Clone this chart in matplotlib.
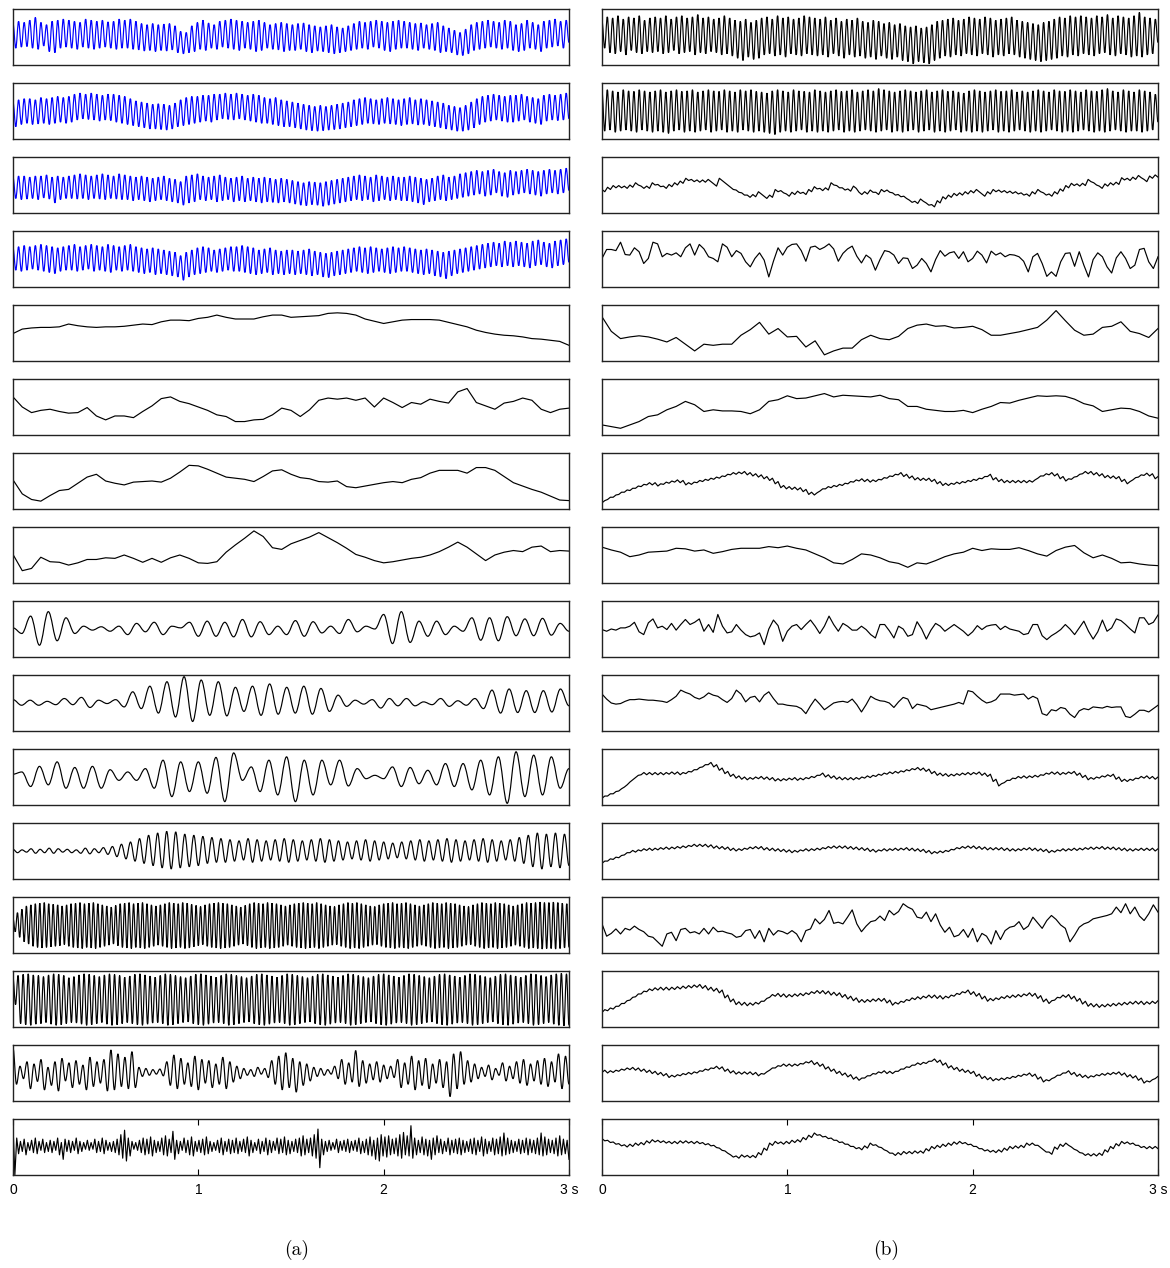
import numpy as np
import matplotlib
matplotlib.use("Agg")
import matplotlib.pyplot as plt
from matplotlib.path import Path
from matplotlib.patches import PathPatch

DURATION = 3.0
TIME_TICKS = [0, 1, 2, 3]
TIME_LABELS = ["0", "1", "2", "3 s"]
PANEL_LABELS = ["(a)", "(b)"]

# ---------------- column (a) ----------------
A1_PEAKS = [74,78,76,80,85,76,72,78,80,82, 80,78,76,82,80,78,80,77,78,82, 80,82,78,74,72,74,72,73,74,70, 60,58,70,76,80,75,72,78,80,82, 80,78,76,78,80,76,72,74,76,74, 72,74,75,72,70,68,70,72,68,66, 70,74,78,76,78,80,78,76,78,80, 78,76,74,75,72,74,76,70,66,62, 58,64,72,76,78,80,78,76,80,78, 72,74,80,76,72,78,80,82,78,80]
A1_TROUGHS = [30,32,33,30,28,34,24,22,30,32, 30,28,32,30,28,30,32,30,28,30, 30,28,27,25,26,24,26,25,27,22, 20,22,24,28,26,30,28,32,30,28, 26,30,28,24,26,30,28,27,24,26, 26,28,24,22,25,24,22,20,22,24, 26,28,30,28,32,30,26,24,28,30, 30,28,26,30,28,26,22,24,22,18, 17,20,26,28,30,32,30,28,30,26, 24,26,30,28,24,30,32,34,30,40]

A2_PEAKS = [66,70,72,72,70,74,72,74,76,74, 76,80,82,80,82,80,78,80,80,78, 76,72,68,66,64,62,63,62,60,64, 70,74,76,76,78,78,80,80,82,80, 82,80,78,80,78,74,72,74,70,68, 66,64,62,60,58,60,58,60,62,64, 66,70,72,74,72,70,72,74,72,70, 72,74,70,72,70,68,66,64,60,58, 56,60,66,72,76,78,80,78,76,78, 78,80,76,74,72,78,80,78,80,82]
A2_TROUGHS = [22,26,28,26,27,28,26,28,30,28, 30,34,36,35,34,32,34,33,30,28, 26,24,22,20,18,18,17,16,18,22, 24,26,28,30,32,30,34,36,35,34, 36,34,32,30,28,28,26,24,22,22, 20,18,16,15,14,15,16,17,18,20, 22,24,26,28,27,26,28,27,26,24, 26,27,25,26,24,22,20,18,16,14, 14,16,20,26,30,32,34,32,30,30, 32,34,30,28,26,32,34,33,34,36]

A3_PEAKS = [64,66,66,64,66,66,68,64,66,64, 66,68,70,68,66,68,70,68,66,70, 68,66,64,66,64,62,64,66,62,60, 56,66,68,70,66,64,66,68,64,62, 64,66,62,64,62,64,62,60,62,60, 58,56,54,56,55,54,56,58,60,62, 64,66,68,66,64,68,66,64,66,64, 64,66,64,62,60,62,66,68,64,66, 70,72,74,76,74,76,78,74,72,76, 74,76,78,76,74,76,78,76,78,80]
A3_TROUGHS = [26,24,25,26,24,27,25,18,24,26, 26,25,26,24,26,25,24,26,25,24, 24,22,24,22,20,22,24,22,20,18, 14,18,20,24,22,24,20,22,24,20, 22,20,22,20,18,20,19,18,20,18, 16,14,13,15,14,12,14,16,18,20, 22,24,22,24,20,22,24,22,24,22, 22,20,18,15,20,22,24,22,24,26, 28,30,32,34,30,32,36,30,28,32, 34,36,34,32,30,34,36,34,36,40]

A4_PEAKS = [70,72,74,72,74,76,74,72,70,72, 74,76,72,74,76,74,72,76,74,72, 74,76,72,70,68,70,68,66,64,62, 56,62,66,70,72,70,66,68,70,72, 72,74,72,70,66,68,70,66,64,66, 66,64,66,68,64,62,60,62,64,66, 68,70,72,70,72,70,68,70,72,70, 72,70,68,66,68,66,64,62,64,66, 68,70,72,74,76,78,80,78,82,80, 82,80,78,82,84,80,78,82,84,86]
A4_TROUGHS = [30,28,30,32,30,28,26,24,28,30, 30,28,30,32,28,30,28,26,30,28, 30,28,26,24,26,22,24,22,20,18, 12,18,22,24,26,28,26,28,30,28, 28,26,24,22,24,26,22,24,22,24, 22,24,22,20,22,18,17,20,22,24, 26,28,26,24,26,28,26,24,26,28, 28,26,24,22,24,20,18,15,20,24, 26,28,30,32,34,36,38,36,38,36, 38,36,34,38,40,36,34,38,40,44]

A5 = [49,57,59,60,60,61,66,63,61,60, 61,61,62,64,66,65,70,73,73,72, 76,78,82,78,75,75,75,79,82,82, 78,79,80,81,85,86,85,82,75,71, 67,70,73,74,74,74,73,69,65,61, 55,51,48,46,45,43,40,39,37,35, 28]
A6 = [68,50,40,44,46,42,39,40,49,34, 27,34,34,31,42,52,65,68,60,56, 50,44,36,33,24,24,27,28,36,48, 44,33,45,62,66,64,66,62,66,50, 66,58,49,58,55,64,60,57,77,83, 58,52,46,57,60,66,62,46,40,46, 48]
A7 = [52,27,17,14,24,33,35,46,57,62, 50,46,43,48,49,50,48,55,66,78, 77,71,64,57,55,53,49,58,68,70, 62,56,54,49,48,50,40,38,41,44, 47,49,47,53,56,64,69,69,69,64, 74,74,69,58,47,41,35,30,23,16, 15]
A8 = [51,22,26,46,38,37,32,36,42,42, 45,44,50,44,37,44,37,45,50,44, 36,35,38,55,68,80,93,83,63,60, 70,76,82,90,81,72,62,51,46,40, 36,38,41,44,46,50,56,64,73,64, 52,40,50,55,58,56,64,66,56,58, 57]

A9 = [52,42,73,21,81,29,70,42,55,48,54,46,55,40,60,45,62,40,55,52,62,37,64,37,62,36,67,36,63,40,55,40,65,37,63,43,55,42,67,45,55,50,76,24,81,26,64,37,64,40,55,46,70,30,70,29,72,38,68,38,69,39,60,46]
A10 = [56,46,55,46,53,47,58,47,60,42,55,49,56,43,70,40,80,32,88,25,97,17,91,28,88,27,78,35,80,28,84,30,78,32,80,30,76,35,64,44,55,48,56,41,58,45,58,45,52,47,58,44,54,46,58,40,73,32,75,33,72,33,72,34,75,45]
A11 = [55,59,33,69,36,77,30,67,30,69,30,63,44,59,44,65,30,80,15,77,24,77,21,85,6,93,44,68,24,80,18,86,6,80,18,80,36,80,34,65,47,53,47,68,33,67,38,62,36,74,33,74,27,80,18,86,3,95,15,89,18,86,30,65]

A12_PEAKS = [53,52,54,53,55,54,53,52,55,54,56, 58,62,66,72, 78,82,85,84, 80,78,76,74,72, 70,68,72,70,68,70,72,70,68,70,72, 70,68,66,68,70,68,66,64,66,68, 70,68,70,72,70,68,70,72,70,68,70, 74,78,82,80,82,80]
A12_TROUGHS = [47,48,46,47,46,48,47,46,45,47,44, 40,36,32,28, 24,20,18,20, 22,24,28,30,30, 32,34,30,32,34,32,30,32,34,32,30, 32,34,36,34,32,34,36,38,36,34, 32,34,32,30,32,34,32,30,32,34,32, 28,22,18,22,20,24]

A13_PEAKS = [62,72,78,84,86,88,89,90,88,87, 86,84,86,88,89,90,88,89,90,88, 86,84,82,85,88,89,90,88,89,90, 88,86,84,86,88,90,89,88,90,89, 87,85,83,86,88,89,90,89,88,86, 84,82,85,88,90,89,88,90,89,88, 86,84,86,88,89,90,89,88,90,88, 86,84,83,86,88,90,89,90,88,86, 84,83,86,88,89,90,88,89,90,88, 86,84,86,88,90,89,88,90,89,88, 86,84,83,86,88,90,89,88,90,89, 88,86,84,86,88,90,89,90,91,90, 90,91,90,89,88]
A13_TROUGHS = [38,28,20,16,12,10,9,10,11,12, 13,15,12,10,9,8,10,9,8,10, 12,14,16,13,10,9,8,10,9,8, 10,12,14,12,10,8,9,10,8,9, 11,13,15,12,10,9,8,9,10,12, 14,16,13,10,8,9,10,8,9,10, 12,14,12,10,9,8,9,10,8,10, 12,14,15,12,10,8,9,8,10,12, 14,15,12,10,9,8,10,9,8,10, 12,14,12,10,8,9,10,8,9,10, 12,14,15,12,10,8,9,10,8,9, 10,12,14,12,10,8,9,8,7,8, 8,7,8,9,10]

A14_PEAKS = [88,92,94,95,93,92,90,93,95,94, 92,88,90,93,95,94,92,90,93,95, 94,92,89,91,94,95,93,91,89,92, 95,94,92,90,88,91,94,95,93,91, 89,92,95,94,92,90,88,91,94,95, 93,91,89,92,95,94,92,90,88,91, 94,95,93,91,89,92,95,94,92,90, 88,91,94,95,93,91,89,92,95,94, 92,90,88,91,94,95,93,91,89,92, 95,94,92,90,88,91,94,95,93,91, 89,92,95,94,92,90,93,95,96,95]
A14_TROUGHS = [40,6,4,3,5,6,8,5,3,4, 6,8,7,5,3,4,6,8,5,3, 4,6,8,6,4,3,5,7,8,6, 3,4,6,8,9,6,4,3,5,7, 8,6,3,4,6,8,9,6,4,3, 5,7,8,6,3,4,6,8,9,6, 4,3,5,7,8,6,3,4,6,8, 9,6,4,3,5,7,8,6,3,4, 6,8,9,6,4,3,5,7,8,6, 3,4,6,8,9,6,4,3,5,7, 8,6,3,4,6,8,5,3,2,3]

A15_PEAKS = [95,62,70,66,74,60,70,76,68,72,64,78,70,74, 91,84,78,88, 60,58,56,57, 70,82,76,68,80,74,72,66,78,70,62, 58,56,60,58, 72,80,86,76,70,66,60,58, 56,62,74,68, 90,72,66,70,64,62, 74,68,80,72,76,66,74,70, 84,88,72,66,60,64,58, 68,62,70,74,66,72,76,70,84,80]
A15_TROUGHS = [30,40,22,35,20,28,18,36,24,30,20,26,32,18, 20,26,22,24, 44,46,48,45, 28,22,30,26,20,32,24,30,22,34,40, 46,44,48,42, 30,20,24,16,28,36,44,46, 48,40,30,34, 26,32,38,34,40,42, 24,30,20,28,22,32,24,8, 22,30,34,40,44,38,46, 36,40,32,28,36,30,26,34,22,30]

A16_PEAKS = [88,66,60,64,58,62,66,60,64,58, 62,60,66,58,64,62,60,66,60,58, 62,58,64,60,66,62,58,60,64,72, 80,66,60,58,62,66,64,68,62,60, 66,70,64,78,62,60,66,62,68,60, 62,64,68,60,58,62,66,60,64,62, 66,60,64,68,62,58,64,60,66,62, 60,66,64,68,62,60,64,66,70,64, 66,72,82,64,60,62,58,64,60,62, 64,60,62,66,60,64,68,62,66,72, 68,70,64,66,72,76,70,88,66,62, 68,64,62,66,70,64,60,66,62,64, 66,62,60,64,66,62,68,64,60,66, 64,68,75,66,62,60,64,62,66,64, 62,66,75,68,64,62,66,70,64,62]
A16_TROUGHS = [0,38,42,36,44,40,38,44,40,42, 40,44,36,28,42,40,44,38,42,46, 44,46,40,42,38,44,42,40,36,30, 25,34,46,44,40,36,38,34,40,42, 36,34,40,28,38,44,40,36,34,42, 40,36,38,42,44,40,36,42,38,40, 38,42,40,34,40,44,38,42,36,40, 44,38,40,36,38,42,40,34,36,40, 34,30,13,36,42,44,46,40,44,42, 40,44,42,38,40,36,34,28,25,34, 32,36,38,34,30,36,34,30,36,40, 36,34,28,36,40,38,42,36,40,38, 36,40,42,38,36,42,34,38,42,36, 38,34,36,38,40,42,38,40,36,40, 38,36,34,36,40,38,34,36,38,28]

# ---------------- column (b) ----------------
B1_PEAKS = [78,86,84,88,82,86,84,88,80,84, 86,84,88,82,86,88,84,86,90,84, 86,82,84,88,84,80,78,82,76,80, 84,86,82,88,84,86,82,84,88,86, 84,82,86,80,84,78,82,80,84,78, 76,80,78,74,76,72,74,70,68,70, 66,68,72,78,80,82,84,80,82,86, 84,82,86,84,80,82,84,86,80,78, 76,74,72,76,78,82,86,84,88,86, 88,86,84,88,86,90,84,88,86,84, 88,94,86,84,82]
B1_TROUGHS = [30,22,20,24,18,26,22,20,24,22, 24,20,22,26,20,22,24,18,22,20, 24,22,18,20,16,12,8,14,10,12, 18,20,16,18,14,20,18,16,20,18, 16,18,14,20,16,12,18,14,16,12, 14,10,16,12,10,14,8,6,2,6, 4,2,8,12,16,14,18,16,20,18, 16,20,18,14,18,16,20,18,14,12, 10,8,6,8,10,12,16,14,18,16, 20,18,16,20,22,18,16,20,18,14, 16,14,18,20,40]

B2_PEAKS = [84,88,86,84,88,86,85,88,86,84, 86,88,84,86,88,85,86,88,84,86, 88,86,85,88,86,84,88,86,88,85, 84,82,86,88,86,84,88,86,85,84, 88,86,84,86,88,85,86,88,84,86, 88,86,90,88,86,84,86,88,86,84, 86,88,84,86,88,85,86,84,82,86, 88,86,84,86,88,85,86,88,84,86, 84,86,88,86,84,88,86,85,88,86, 84,88,86,85,88,90,86,84,88,86, 84,88,86,84,80]
B2_TROUGHS = [14,16,12,14,16,14,12,16,14,12, 14,12,10,14,16,12,14,12,14,16, 12,14,16,12,14,12,16,14,12,14, 12,10,8,12,14,12,14,16,12,14, 12,14,12,14,16,12,14,12,14,16, 14,12,14,16,12,14,12,14,16,12, 14,16,12,14,12,14,16,12,14,12, 14,12,14,16,12,14,12,14,16,14, 12,14,12,14,16,14,12,14,12,14, 16,14,12,14,12,14,16,14,12,14, 14,12,14,16,30]

B3_UPPER = [42,46,49,49,48,50,54,48,48,54, 51,48,51,54,57,62,60,59,59,60, 52,62,54,46,41,36,32,33,38,30, 32,42,40,34,37,39,37,42,47,44, 45,54,49,45,43,48,37,38,41,37, 42,41,36,33,30,23,21,25,18,15, 22,29,32,35,36,38,40,42,34,38, 42,41,40,39,38,36,34,38,42,36, 34,38,43,49,53,52,53,60,54,48, 52,54,55,63,62,64,67,60,66,68]
B3_LOWER = [38,42,45,45,44,46,50,44,44,50, 47,44,47,50,53,58,56,55,55,56, 48,58,50,42,37,32,28,29,34,26, 28,38,36,30,33,35,33,38,43,40, 41,50,45,41,39,44,33,34,37,33, 38,37,32,29,26,19,17,21,14,11, 18,25,28,31,32,34,36,38,30,34, 38,37,36,35,34,32,30,34,38,32, 30,34,39,45,49,48,49,56,50,44, 48,50,51,59,58,60,63,56,62,64]

B4 = [51,67,67,65,80,58,57,70,63,42, 51,80,77,54,60,57,61,54,70,77, 57,76,68,54,51,45,77,71,54,65, 60,45,36,51,61,48,18,46,70,57, 71,76,77,65,46,71,73,67,71,77, 68,46,60,68,73,55,43,57,51,30, 49,65,63,57,42,52,51,33,39,51, 42,27,49,65,55,61,63,51,63,45, 51,64,57,43,64,57,61,54,58,57, 54,46,27,54,60,42,19,27,19,45, 60,61,37,63,39,18,49,61,54,36, 25,52,63,51,33,39,67,69,45,33, 54]
B5 = [79,53,40,43,45,43,39,34,42,30, 18,30,28,30,30,46,56,69,48,58, 43,44,25,36,11,18,23,23,38,46, 40,38,44,58,64,66,62,63,59,60, 62,56,46,46,49,52,56,60,73,90, 72,55,46,48,60,62,70,53,49,42, 58]
B6 = [18,15,12,18,24,33,36,45,51,60, 54,42,45,43,43,42,38,45,60,63, 70,65,66,70,74,68,71,70,69,68, 71,65,63,51,51,46,44,42,42,44, 40,46,51,58,57,62,66,70,69,70, 69,64,56,52,42,45,48,47,42,34, 30]

B7_UPPER = [15,21,25,30,34,37,41,44,47,47, 45,48,50,52,51,47,48,51,53,55, 57,59,62,65,66,67,65,63,61,58, 55,49,42,40,39,38,35,30,29,36, 40,42,44,46,49,52,54,53,52,53, 56,59,62,65,62,59,56,55,55,53, 49,46,46,48,49,51,53,55,58,62, 56,53,51,51,51,51,51,52,59,63, 65,63,58,54,57,62,67,67,65,63, 60,59,58,53,49,56,61,64,63,58]
B7_LOWER = [11,17,21,26,30,33,37,40,43,43, 41,44,46,48,47,43,44,47,49,51, 53,55,58,61,62,63,61,59,57,54, 51,45,38,36,35,34,31,26,25,32, 36,38,40,42,45,48,50,49,48,49, 52,55,58,61,58,55,52,51,51,49, 45,42,42,44,45,47,49,51,54,58, 52,49,47,47,47,47,47,48,55,59, 61,59,54,50,53,58,63,63,61,59, 56,55,54,49,45,52,57,60,59,54]

B8 = [64,59,55,47,50,55,56,57,62,61, 57,59,53,56,60,62,62,62,65,63, 66,62,59,52,45,36,34,42,52,50, 45,38,35,28,36,34,40,47,52,55, 62,58,61,60,60,63,58,52,48,58, 64,67,54,45,50,44,36,37,34,32, 31]
B9 = [49,46,50,48,52,52,55,62,45,40, 61,68,52,55,49,60,48,58,67,58, 62,68,46,58,44,76,55,43,45,58, 48,40,36,38,43,22,50,66,56,28, 46,55,58,49,58,66,55,42,55,73, 58,46,60,55,48,48,55,49,40,34, 58,58,47,34,55,50,37,40,63,50, 32,48,60,55,46,52,58,52,46,38, 45,56,49,55,57,58,49,55,50,48, 46,40,42,58,58,38,31,38,43,49, 58,50,40,52,64,46,32,45,66,46, 52,68,65,58,50,43,70,70,58,62, 75]
B10 = [66,57,50,48,49,53,56,56,57,56, 55,55,54,53,51,56,62,73,69,66, 60,57,61,68,64,62,56,51,58,73, 66,52,60,62,52,64,70,58,48,48, 46,45,44,40,31,45,57,48,38,44, 50,52,53,51,57,47,34,47,62,57, 54,53,50,42,52,60,57,40,48,46, 44,38,40,42,44,46,48,51,48,72, 70,62,55,50,52,56,66,66,66,64, 65,66,57,62,58,31,28,38,36,42, 40,30,24,36,40,38,43,42,41,44, 42,43,43,26,24,30,37,37,34,40, 46]

B11_UPPER = [16,20,24,29,36,45,53,58,58,58, 58,58,59,59,58,60,63,67,72,76, 72,66,60,55,52,50,49,50,51,50, 49,47,47,48,49,48,49,51,53,57, 54,52,50,49,49,49,50,52,53,55, 57,59,60,61,63,65,67,66,64,60, 57,56,55,56,57,58,58,59,57,55, 46,38,44,48,51,52,52,53,54,57, 59,59,58,59,60,57,53,49,50,52, 54,55,50,46,46,48,51,52,51,50]
B11_LOWER = [12,16,20,25,32,41,49,54,54,54, 54,54,55,55,54,56,59,63,68,72, 68,62,56,51,48,46,45,46,47,46, 45,43,43,44,45,44,45,47,49,53, 50,48,46,45,45,45,46,48,49,51, 53,55,56,57,59,61,63,62,60,56, 53,52,51,52,53,54,54,55,53,51, 42,34,40,44,47,48,48,49,50,53, 55,55,54,55,56,53,49,45,46,48, 50,51,46,42,42,44,47,48,47,46]

B12_UPPER = [32,36,39,42,47,51,52,54,55,55, 56,57,57,58,59,60,62,62,62,61, 59,58,57,55,54,55,57,58,58,56, 55,54,53,52,51,52,54,54,55,56, 58,59,59,59,58,57,56,55,53,52, 54,54,55,55,56,55,54,53,51,49, 50,51,53,56,58,59,59,58,57,56, 56,56,55,54,54,55,56,55,54,53, 51,52,54,54,55,55,56,57,57,58, 57,57,56,55,54,54,55,55,55,54]
B12_LOWER = [28,32,35,38,43,47,48,50,51,51, 52,53,53,54,55,56,58,58,58,57, 55,54,53,51,50,51,53,54,54,52, 51,50,49,48,47,48,50,50,51,52, 54,55,55,55,54,53,52,51,49,48, 50,50,51,51,52,51,50,49,47,45, 46,47,49,52,54,55,55,54,53,52, 52,52,51,50,50,51,52,51,50,49, 47,48,50,50,51,51,52,53,53,54, 53,53,52,51,50,50,51,51,51,50]

B13 = [52,30,35,43,34,44,41,48,42,38, 30,28,20,12,34,37,22,42,44,36, 38,34,44,34,46,38,39,36,34,28, 30,40,42,26,40,20,44,32,40,38, 34,40,34,20,40,43,61,52,60,76, 53,55,52,64,77,52,38,48,56,58, 66,58,76,68,74,88,82,78,64,62, 73,56,70,50,37,46,29,32,42,28, 44,20,35,30,16,40,24,40,46,48, 56,42,48,64,54,44,58,67,60,50, 44,20,32,46,52,55,61,63,65,67, 70,82,72,88,70,82,66,58,70,86, 73]

B14_UPPER = [31,34,37,42,47,53,59,64,68,70, 71,71,71,72,73,74,75,76,74,71, 69,66,57,50,45,44,43,44,46,51, 58,60,59,58,59,60,61,63,65,65, 64,62,61,58,55,52,49,49,50,51, 51,48,44,46,49,52,54,55,57,57, 56,55,57,60,63,66,63,60,55,51, 52,54,56,57,58,59,61,60,56,50, 47,53,57,58,55,51,46,42,41,40, 41,42,43,44,45,46,46,45,46,47]
B14_LOWER = [26,29,32,37,42,48,54,59,63,65, 66,66,66,67,68,69,70,71,69,66, 64,61,52,45,40,39,38,39,41,46, 53,55,54,53,54,55,56,58,60,60, 59,57,56,53,50,47,44,44,45,46, 46,43,39,41,44,47,49,50,52,52, 51,50,52,55,58,61,58,55,50,46, 47,49,51,52,53,54,56,55,51,45, 42,48,52,53,50,46,41,37,36,35, 36,37,38,39,40,41,41,40,41,42]

B15_UPPER = [55,54,55,57,59,60,59,57,55,53, 51,49,46,47,49,51,52,54,57,59, 62,61,57,54,52,52,52,51,49,52, 59,63,66,66,66,67,70,72,69,66, 61,57,53,50,47,43,41,45,49,52, 54,53,53,57,61,64,68,69,71,75, 73,68,63,60,57,55,53,48,44,42, 40,41,42,44,46,48,50,48,43,38, 40,46,50,54,51,48,46,45,47,49, 50,51,52,50,47,45,41,36,38,44]
B15_LOWER = [51,50,51,53,55,56,55,53,51,49, 47,45,42,43,45,47,48,50,53,55, 58,57,53,50,48,48,48,47,45,48, 55,59,62,62,62,63,66,68,65,62, 57,53,49,46,43,39,37,41,45,48, 50,49,49,53,57,60,64,65,67,71, 69,64,59,56,53,51,49,44,40,38, 36,37,38,40,42,44,46,44,39,34, 36,42,46,50,47,44,42,41,43,45, 46,47,48,46,43,41,37,32,34,40]

B16_UPPER = [65,62,59,56,54,55,57,58,61,63, 62,61,60,60,61,61,60,60,58,56, 53,48,43,36,34,36,35,35,40,48, 57,60,59,60,62,63,67,71,75,72, 69,66,62,59,55,51,49,52,57,54, 49,43,39,40,42,42,43,43,47,51, 53,55,57,59,60,58,55,51,47,45, 44,45,48,51,52,53,57,57,53,45, 41,50,55,57,50,44,39,38,38,39, 45,51,56,60,59,57,53,51,51,51]
B16_LOWER = [61,58,55,52,50,51,53,54,57,59, 58,57,56,56,57,57,56,56,54,52, 49,44,39,32,30,32,31,31,36,44, 53,56,55,56,58,59,63,67,71,68, 65,62,58,55,51,47,45,48,53,50, 45,39,35,36,38,38,39,39,43,47, 49,51,53,55,56,54,51,47,43,41, 40,41,44,47,48,49,53,53,49,41, 37,46,51,53,46,40,35,34,34,35, 41,47,52,56,55,53,49,47,47,47]


def alternate(first, second):
    """Merge two per-cycle extreme lists into one sequence (first, second, first, ...)."""
    return np.column_stack([np.asarray(first, float), np.asarray(second, float)]).ravel()


# (values, drawn as smooth extrema-to-extrema strokes?)
left_traces = [
    (alternate(A1_PEAKS, A1_TROUGHS), True), (alternate(A2_PEAKS, A2_TROUGHS), True),
    (alternate(A3_PEAKS, A3_TROUGHS), True), (alternate(A4_PEAKS, A4_TROUGHS), True),
    (A5, False), (A6, False), (A7, False), (A8, False),
    (A9, True), (A10, True), (A11, True),
    (alternate(A12_PEAKS, A12_TROUGHS), True), (alternate(A13_PEAKS, A13_TROUGHS), True),
    (alternate(A14_PEAKS, A14_TROUGHS), True), (alternate(A15_PEAKS, A15_TROUGHS), True),
    (alternate(A16_PEAKS, A16_TROUGHS), False),
]
left_colors = ["#0000ff"] * 4 + ["black"] * 12

right_traces = [
    (alternate(B1_PEAKS, B1_TROUGHS), True), (alternate(B2_PEAKS, B2_TROUGHS), True),
    (alternate(B3_UPPER, B3_LOWER), False), (B4, False), (B5, False), (B6, False),
    (alternate(B7_LOWER, B7_UPPER), False), (B8, False), (B9, False), (B10, False),
    (alternate(B11_LOWER, B11_UPPER), False), (alternate(B12_LOWER, B12_UPPER), False),
    (B13, False), (alternate(B14_LOWER, B14_UPPER), False),
    (alternate(B15_LOWER, B15_UPPER), False), (alternate(B16_UPPER, B16_LOWER), False),
]
right_colors = ["black"] * 16


def extrema_path(t, y, k=0.3642):
    """Cubic strokes between consecutive extrema with flat tangents at each extremum."""
    verts = [(t[0], y[0])]
    codes = [Path.MOVETO]
    for i in range(len(t) - 1):
        dt = t[i + 1] - t[i]
        verts += [(t[i] + k * dt, y[i]), (t[i + 1] - k * dt, y[i + 1]), (t[i + 1], y[i + 1])]
        codes += [Path.CURVE4] * 3
    return Path(verts, codes)


W, H = 1170, 1268
fig = plt.figure(figsize=(W / 100, H / 100), dpi=100)

col_left_px = [13, 602]
panel_w_px = 556
panel_h_px = 56
first_top_px = 9
step_px = 74

for col, (traces, colors) in enumerate([(left_traces, left_colors), (right_traces, right_colors)]):
    for i, ((y, smooth), c) in enumerate(zip(traces, colors)):
        top = first_top_px + step_px * i
        ax = fig.add_axes([col_left_px[col] / W, 1 - (top + panel_h_px) / H,
                           panel_w_px / W, panel_h_px / H])
        y = np.asarray(y, float)
        t = np.linspace(0, DURATION, len(y))
        if smooth:
            ax.add_patch(PathPatch(extrema_path(t, y), fill=False, edgecolor=c, lw=0.85))
        else:
            ax.plot(t, y, color=c, lw=0.85)
        ax.set_xlim(0, DURATION)
        ax.set_ylim(0, 100)
        ax.set_yticks([])
        for s in ax.spines.values():
            s.set_linewidth(1.0)
            s.set_color("#222222")
        if i == len(traces) - 1:
            ax.set_xticks(TIME_TICKS)
            ax.set_xticklabels(TIME_LABELS, fontfamily="Liberation Sans", fontsize=10)
            ax.tick_params(axis="x", direction="in", top=True, bottom=True,
                           length=4, width=0.8, pad=6)
        else:
            ax.set_xticks([])

for col, lab in enumerate(PANEL_LABELS):
    fig.text((col_left_px[col] + panel_w_px / 2 + 6) / W, 1 - 1250 / H, lab,
             ha="center", va="center", fontfamily="cmr10", fontsize=14)

fig.savefig("out.png", dpi=100)
